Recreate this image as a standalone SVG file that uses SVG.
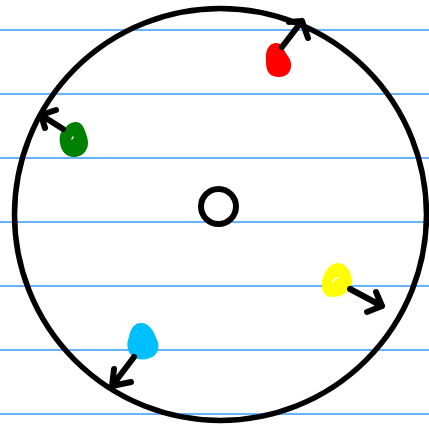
<svg xmlns="http://www.w3.org/2000/svg" width="429" height="431" viewBox="0 0 429 431">
<style>
.rule{stroke:#3399ff;stroke-width:1.3}
.ink{fill:none;stroke:#000;stroke-linecap:round;stroke-linejoin:round}
.arrow{fill:none;stroke:#000;stroke-width:6;stroke-linecap:round;stroke-linejoin:round}
.hl{fill:none;stroke:#fff;stroke-width:1.5;stroke-linecap:round}
</style>
<rect width="429" height="431" fill="#fff"/>
<g id="paper">
<line class="rule" x1="0" y1="30" x2="429" y2="30"/>
<line class="rule" x1="0" y1="94" x2="429" y2="94"/>
<line class="rule" x1="0" y1="158" x2="429" y2="158"/>
<line class="rule" x1="0" y1="222" x2="429" y2="222"/>
<line class="rule" x1="0" y1="286" x2="429" y2="286"/>
<line class="rule" x1="0" y1="350" x2="429" y2="350"/>
<line class="rule" x1="0" y1="414" x2="429" y2="414"/>
</g>
<g id="outer-circle"><circle class="ink" cx="220.5" cy="214.5" r="206" stroke-width="5.5"/></g>
<g id="center"><circle class="ink" cx="218.5" cy="206.5" r="17.5" stroke-width="6"/></g>
<g id="red"><path fill="#ff0000" d="M276,43 C268,43 265,52 266,62 C266,72 270,77 279,77 C288,77 292,70 291,63 C290,57 284,52 283,47 C282,44 279,43 276,43 Z"/></g>
<g id="green"><path fill="#008000" d="M76,122 C70,122 66,126 65,129 C60,131 59,137 60,143 C61,151 66,157 74,157 C82,157 88,151 88,143 C88,138 86,134 85,131 C83,125 80,122 76,122 Z"/><path class="hl" d="M72,139 L73,137"/></g>
<g id="yellow"><path fill="#ffff00" d="M338,263 C330,263 324,272 322,281 C321,290 324,297 332,297 C342,297 351,291 352,282 C352,272 346,263 338,263 Z"/><path class="hl" d="M333,282 C334,279 336,278 338,278"/></g>
<g id="blue"><path fill="#00bfff" d="M141,323 C133,323 130,331 129,337 C126,343 127,352 133,357 C139,361 150,360 155,355 C160,350 159,342 156,338 C154,331 149,323 141,323 Z"/></g>
<g id="connectors">
<path class="arrow" d="M282,47 L302,21 M289,22 L302,21 L308,38"/>
<path class="arrow" d="M63,129 L41,115 M56,110 L41,115 L45,128"/>
<path class="arrow" d="M350,289 L382,306 M376,292 L382,306 L367,312"/>
<path class="arrow" d="M134,357 L112,386 M114,369 L112,386 L131,382"/>
</g>
</svg>
